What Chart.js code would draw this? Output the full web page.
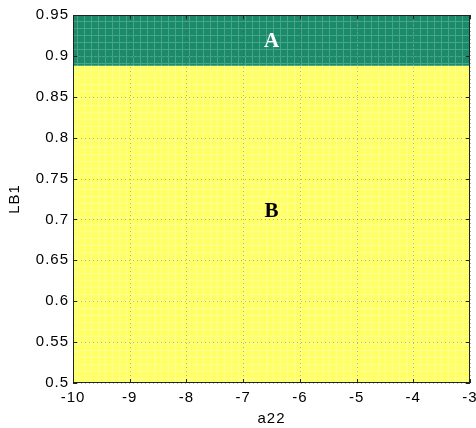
<!DOCTYPE html>
<html>
<head>
<meta charset="utf-8">
<script src="https://cdn.jsdelivr.net/npm/chart.js@4/dist/chart.umd.min.js"></script>
<style>
html,body{margin:0;padding:0;background:#fff;}
#wrap{width:476px;height:428px;}
</style>
</head>
<body>
<div id="wrap"><canvas id="c" width="476" height="428"></canvas></div>
<script>
// ---- data ----
const xRange = [-10, -3];            // a22 span of the regions
const boundaryLB1 = [0.888, 0.888];  // LB1 boundary between region A (above) and B (below)
const xTicks = [-10, -9, -8, -7, -6, -5, -4, -3];
const yTicks = [0.5, 0.55, 0.6, 0.65, 0.7, 0.75, 0.8, 0.85, 0.9, 0.95];
const regionNames = ['A', 'B'];
const regionLabelX = [-6.5, -6.5];
const regionLabelY = [0.917, 0.71];

function meshPattern(base, line) {
  const c = document.createElement('canvas');
  c.width = 7; c.height = 7;
  const g = c.getContext('2d');
  g.fillStyle = base; g.fillRect(0, 0, 7, 7);
  g.fillStyle = line;
  g.fillRect(0, 0, 7, 1);
  g.fillRect(0, 0, 1, 7);
  return g.createPattern(c, 'repeat');
}
const greenFill = meshPattern('#1b8a6b', '#46a487');
const yellowFill = meshPattern('#ffff66', '#ffff8f');

const pts = xRange.map((x, i) => ({x: x, y: boundaryLB1[i]}));

const spacing = {
  id: 'spacing',
  beforeInit(chart) { try { chart.ctx.letterSpacing = '1px'; } catch (e) {} },
  beforeDraw(chart) { try { chart.ctx.letterSpacing = '1px'; } catch (e) {} }
};

const overlay = {
  id: 'overlay',
  afterDatasetsDraw(chart) {
    const ctx = chart.ctx, xs = chart.scales.x, ys = chart.scales.y, a = chart.chartArea;
    ctx.save();
    ctx.strokeStyle = 'rgba(60,60,40,0.35)';
    ctx.lineWidth = 1;
    ctx.setLineDash([1, 3]);
    xTicks.forEach(v => {
      const px = Math.round(xs.getPixelForValue(v)) + 0.5;
      ctx.beginPath(); ctx.moveTo(px, a.top); ctx.lineTo(px, a.bottom); ctx.stroke();
    });
    yTicks.forEach(v => {
      const py = Math.round(ys.getPixelForValue(v)) + 0.5;
      ctx.beginPath(); ctx.moveTo(a.left, py); ctx.lineTo(a.right, py); ctx.stroke();
    });
    ctx.setLineDash([]);
    ctx.strokeStyle = '#222';
    ctx.strokeRect(Math.round(a.left) + 0.5, Math.round(a.top) + 0.5,
                   Math.round(a.right - a.left) - 1, Math.round(a.bottom - a.top) - 1);
    const tl = 4;
    ctx.beginPath();
    xTicks.forEach(v => {
      const px = Math.round(xs.getPixelForValue(v)) + 0.5;
      ctx.moveTo(px, a.bottom); ctx.lineTo(px, a.bottom - tl);
      ctx.moveTo(px, a.top); ctx.lineTo(px, a.top + tl);
    });
    yTicks.forEach(v => {
      const py = Math.round(ys.getPixelForValue(v)) + 0.5;
      ctx.moveTo(a.left, py); ctx.lineTo(a.left + tl, py);
      ctx.moveTo(a.right, py); ctx.lineTo(a.right - tl, py);
    });
    ctx.stroke();
    try { ctx.letterSpacing = '0px'; } catch (e) {}
    ctx.font = 'bold 21px "Liberation Serif", "Times New Roman", serif';
    ctx.textAlign = 'center';
    ctx.textBaseline = 'middle';
    regionNames.forEach((n, i) => {
      ctx.fillStyle = i === 0 ? '#ffffff' : '#000000';
      ctx.fillText(n, xs.getPixelForValue(regionLabelX[i]), ys.getPixelForValue(regionLabelY[i]));
    });
    ctx.restore();
  }
};

const font = {family: '"Liberation Sans", Arial, sans-serif', size: 15};

new Chart(document.getElementById('c'), {
  type: 'line',
  data: {
    datasets: [
      {label: 'A', data: pts, fill: 'end', backgroundColor: greenFill, borderWidth: 0, pointRadius: 0},
      {label: 'B', data: pts, fill: 'start', backgroundColor: yellowFill, borderWidth: 0, pointRadius: 0}
    ]
  },
  options: {
    responsive: false,
    animation: false,
    layout: {padding: {left: 0, top: 15, right: 6, bottom: 0}},
    plugins: {legend: {display: false}, tooltip: {enabled: false}},
    scales: {
      x: {
        type: 'linear', min: xRange[0], max: xRange[1],
        afterBuildTicks: s => { s.ticks = xTicks.map(v => ({value: v})); },
        afterFit: s => { s.height = 45; s.paddingLeft = 0; s.paddingRight = 0; },
        grid: {display: false, drawTicks: false},
        border: {display: false},
        ticks: {font: font, color: '#000', padding: 6, maxRotation: 0, autoSkip: false,
                callback: v => String(v)},
        title: {display: true, text: 'a22', font: font, color: '#000', padding: {top: 0, bottom: 0}}
      },
      y: {
        type: 'linear', min: 0.5, max: 0.95,
        afterBuildTicks: s => { s.ticks = yTicks.map(v => ({value: v})); },
        afterFit: s => { s.width = 73; s.paddingTop = 0; s.paddingBottom = 0; },
        grid: {display: false, drawTicks: false},
        border: {display: false},
        ticks: {font: font, color: '#000', padding: 4, autoSkip: false,
                callback: v => String(Math.round(v * 100) / 100)},
        title: {display: true, text: 'LB1', font: font, color: '#000', padding: {top: 6, bottom: 0}}
      }
    }
  },
  plugins: [spacing, overlay]
});
</script>
</body>
</html>
